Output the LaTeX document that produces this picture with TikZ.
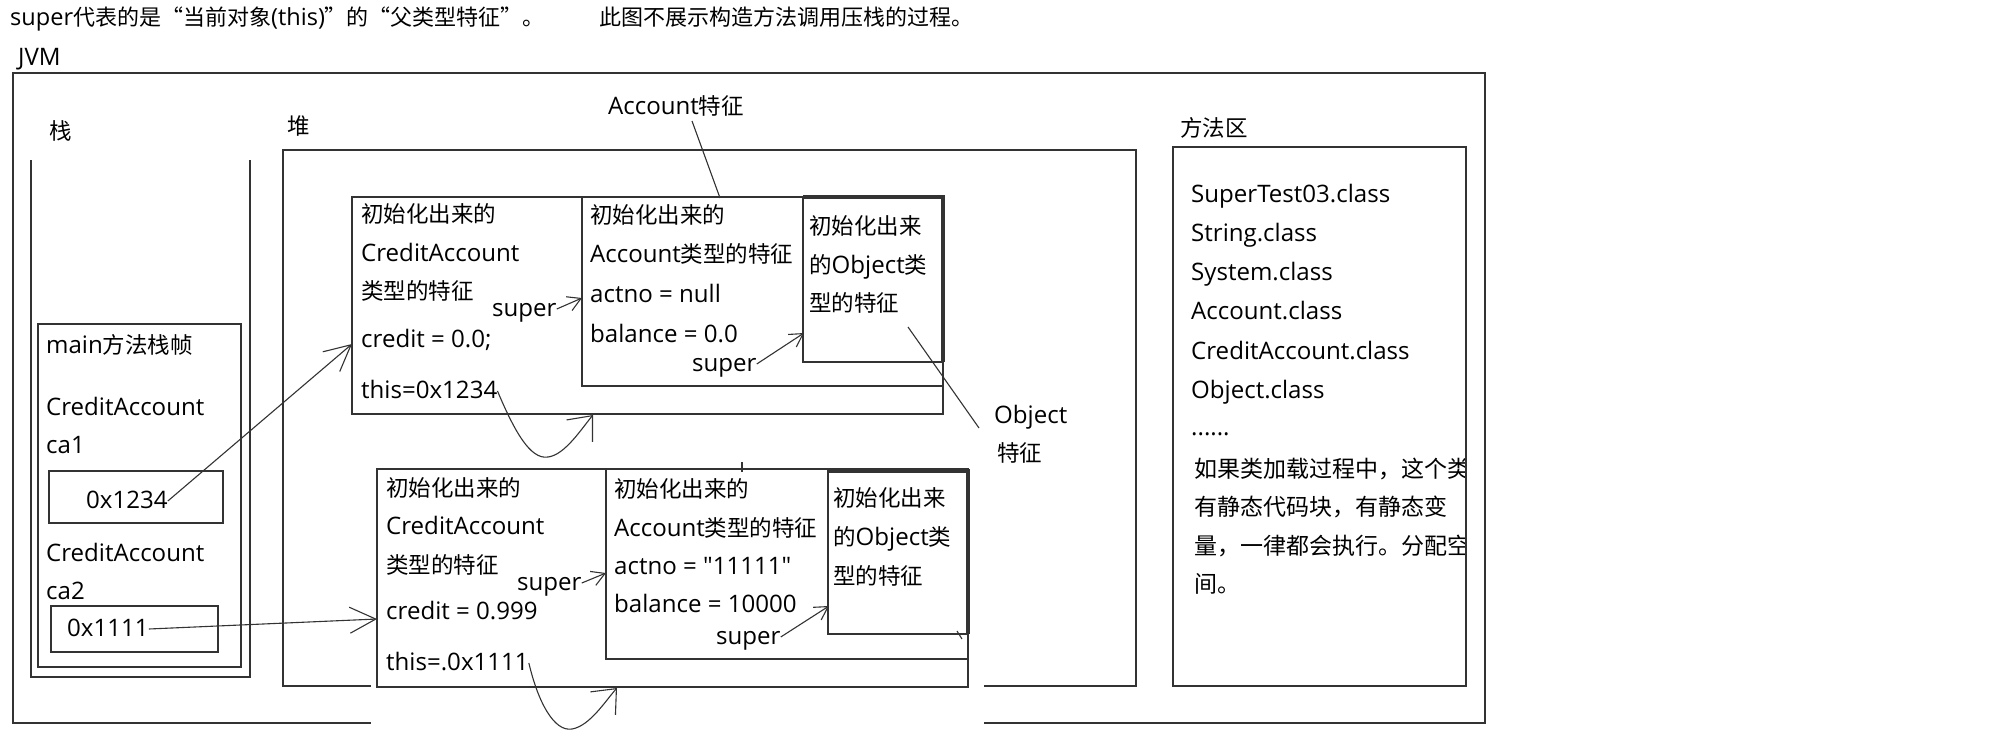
\documentclass[tikz,border=0pt]{standalone}
\usepackage{fontspec}
\setmainfont{Open Sans}[Scale=1.07]
\newfontfamily\cjk{Noto Sans CJK SC}
% same face without TeX quote mapping, for straight quotes
\newfontfamily\plainq{Open Sans}[Scale=1.07]
\newcommand\zh[1]{{\cjk #1}}
\usetikzlibrary{arrows.meta}
\definecolor{ln}{HTML}{333333}
\begin{document}
\begin{tikzpicture}[x=1pt,y=-1pt,
  txt/.style={anchor=west, inner sep=0pt, text height=20pt, text depth=5pt,
              font=\fontsize{22.5pt}{27pt}\selectfont},
  toptxt/.style={txt, font=\fontsize{22pt}{26pt}\selectfont},
  frame/.style={draw=ln, line width=1.6pt},
  heavy/.style={draw=ln, line width=3.2pt},
  thinline/.style={draw=ln, line width=1.1pt},
  ptr/.style={thinline, -{Straight Barb[length=26pt,width=26pt]}},
  loopptr/.style={thinline, -{Straight Barb[length=20pt,width=34pt]}},
  supptr/.style={thinline, -{Straight Barb[length=13pt,width=15pt]}}]

\fill[white] (0,0) rectangle (2010,742);
\useasboundingbox (0,0) rectangle (2010,742);

% heading
\node[toptxt] (head1) at (10,18) {super\zh{代表的是“当前对象}(this)\zh{”的“父类型特征”。}};
\node[toptxt] (head2) at (599,18) {\zh{此图不展示构造方法调用压栈的过程。}};

% JVM frame
\node[txt] (jvmlbl) at (18,58) {JVM};
\draw[frame] (13,73) rectangle (1485,723);

% stack
\node[txt] (stklbl) at (49,132) {\zh{栈}};
\draw[frame] (31,160) -- (31,677) -- (250,677) -- (250,160);
\draw[frame] (38,324) rectangle (241,667);
\node[txt] (mainlbl) at (46,346) {main\zh{方法栈帧}};
\node[txt] (t1) at (46,408) {CreditAccount};
\node[txt] (n1) at (46,446) {ca1};
\draw[frame] (49,471) rectangle (223,523);
\node[txt] (v1) at (86,501) {0x1234};
\node[txt] (t2) at (46,554) {CreditAccount};
\node[txt] (n2) at (46,592) {ca2};
\draw[frame] (51,606) rectangle (218,652);
\node[txt] (v2) at (67,629) {0x1111};

% heap
\node[txt] (heaplbl) at (287,127) {\zh{堆}};
\draw[frame] (283,150) rectangle (1136,686);

% method area
\node[txt] (malbl) at (1180,129) {\zh{方法区}};
\node[txt] (c01) at (1191,195) {SuperTest03.class};
\node[txt] (c02) at (1191,234) {String.class};
\node[txt] (c03) at (1191,273) {System.class};
\node[txt] (c04) at (1191,312) {Account.class};
\node[txt] (c05) at (1191,352) {CreditAccount.class};
\node[txt] (c06) at (1191,391) {Object.class};
\node[txt] (c07) at (1191,428) {......};
\begin{scope}
  \clip (1173,147) rectangle (1466,686);
  \tikzset{note/.style={txt, font=\fontsize{23pt}{27pt}\selectfont}}
  \node[note] (m1) at (1194,470) {\zh{如果类加载过程中，这个类}};
  \node[note] (m2) at (1194,508) {\zh{有静态代码块，有静态变}};
  \node[note] (m3) at (1194,547) {\zh{量，一律都会执行。分配空}};
  \node[note] (m4) at (1194,585) {\zh{间。}};
\end{scope}
\draw[frame] (1173,147) rectangle (1466,686);

% first object: CreditAccount / Account / Object parts
\draw[frame, fill=white] (352,197) rectangle (943,414);
\draw[frame] (582,197) rectangle (943,386);
\draw[frame] (803,197) rectangle (943,362);
\draw[heavy] (803,197) -- (943,197) -- (943,362);
\node[txt] (a1) at (361,215) {\zh{初始化出来的}};
\node[txt] (a2) at (361,254) {CreditAccount};
\node[txt] (a3) at (361,292) {\zh{类型的特征}};
\node[txt] (a4) at (361,340) {credit = 0.0;};
\node[txt] (this1) at (361,391) {this=0x1234};
\node[txt] (b1) at (590,216) {\zh{初始化出来的}};
\node[txt] (b2) at (590,255) {Account\zh{类型的特征}};
\node[txt] (b3) at (590,295) {actno = null};
\node[txt] (b4) at (590,335) {balance = 0.0};
\node[txt] (o1) at (809,227) {\zh{初始化出来}};
\node[txt] (o2) at (809,266) {\zh{的}Object\zh{类}};
\node[txt] (o3) at (809,304) {\zh{型的特征}};
\node[txt] (sup1) at (492,309) {super};
\node[txt] (sup2) at (692,364) {super};
\coordinate (acc1in) at (582,298);
\coordinate (obj1in) at (804,333);
\coordinate (ca1in) at (352,344);
\coordinate (ca1bot) at (593,415);
\draw[supptr] (sup1.east) -- (acc1in);
\draw[supptr] (sup2.east) -- (obj1in);
\draw[ptr] (v1.east) -- (ca1in);
\draw[loopptr] (this1.east) .. controls (514,430) and (530,460) .. (548,457)
  .. controls (565,455) and (582,428) .. (ca1bot);

% callouts
\node[txt, anchor=center] (accft) at (676,107) {Account\zh{特征}};
\coordinate (accfrom) at (692,121);
\coordinate (accto) at (720,198);
\draw[thinline] (accfrom) -- (accto);
\node[txt] (objft1) at (994,416) {Object};
\node[txt] (objft2) at (997,454) {\zh{特征}};
\coordinate (objfrom) at (908,327);
\coordinate (objto) at (979,428);
\draw[thinline] (objfrom) -- (objto);

% second object, laid over the frame lines
\fill[white] (371,460) rectangle (984,742);
\draw[frame] (377,469) rectangle (968,687);
\draw[frame] (606,469) rectangle (968,659);
\draw[frame] (828,471) rectangle (968,634);
\draw[heavy] (828,471) -- (968,471) -- (968,634);
\node[txt] (d1) at (386,489) {\zh{初始化出来的}};
\node[txt] (d2) at (386,527) {CreditAccount};
\node[txt] (d3) at (386,566) {\zh{类型的特征}};
\node[txt] (d4) at (386,612) {credit = 0.999};
\node[txt] (this2) at (386,663) {this=.0x1111};
\node[txt] (e1) at (614,490) {\zh{初始化出来的}};
\node[txt] (e2) at (614,529) {Account\zh{类型的特征}};
\node[txt] (e3) at (614,567) {actno = {\plainq"11111"}};
\node[txt] (e4) at (614,605) {balance = 10000};
\node[txt] (p1) at (833,499) {\zh{初始化出来}};
\node[txt] (p2) at (833,538) {\zh{的}Object\zh{类}};
\node[txt] (p3) at (833,577) {\zh{型的特征}};
\node[txt] (sup3) at (517,583) {super};
\node[txt] (sup4) at (716,637) {super};
\coordinate (acc2in) at (606,573);
\coordinate (obj2in) at (829,606);
\coordinate (ca2in) at (377,619);
\coordinate (ca2bot) at (617,688);
\draw[supptr] (sup3.east) -- (acc2in);
\draw[supptr] (sup4.east) -- (obj2in);
\draw[ptr] (v2.east) -- (ca2in);
\draw[loopptr] (this2.east) .. controls (538,702) and (554,732) .. (572,729)
  .. controls (590,726) and (606,700) .. (ca2bot);

% small pen marks
\draw[thinline] (742,462) -- (742,472);
\draw[thinline] (957,631) -- (962,639);
\draw[thinline] (968,646) -- (968,653);
\end{tikzpicture}
\end{document}
